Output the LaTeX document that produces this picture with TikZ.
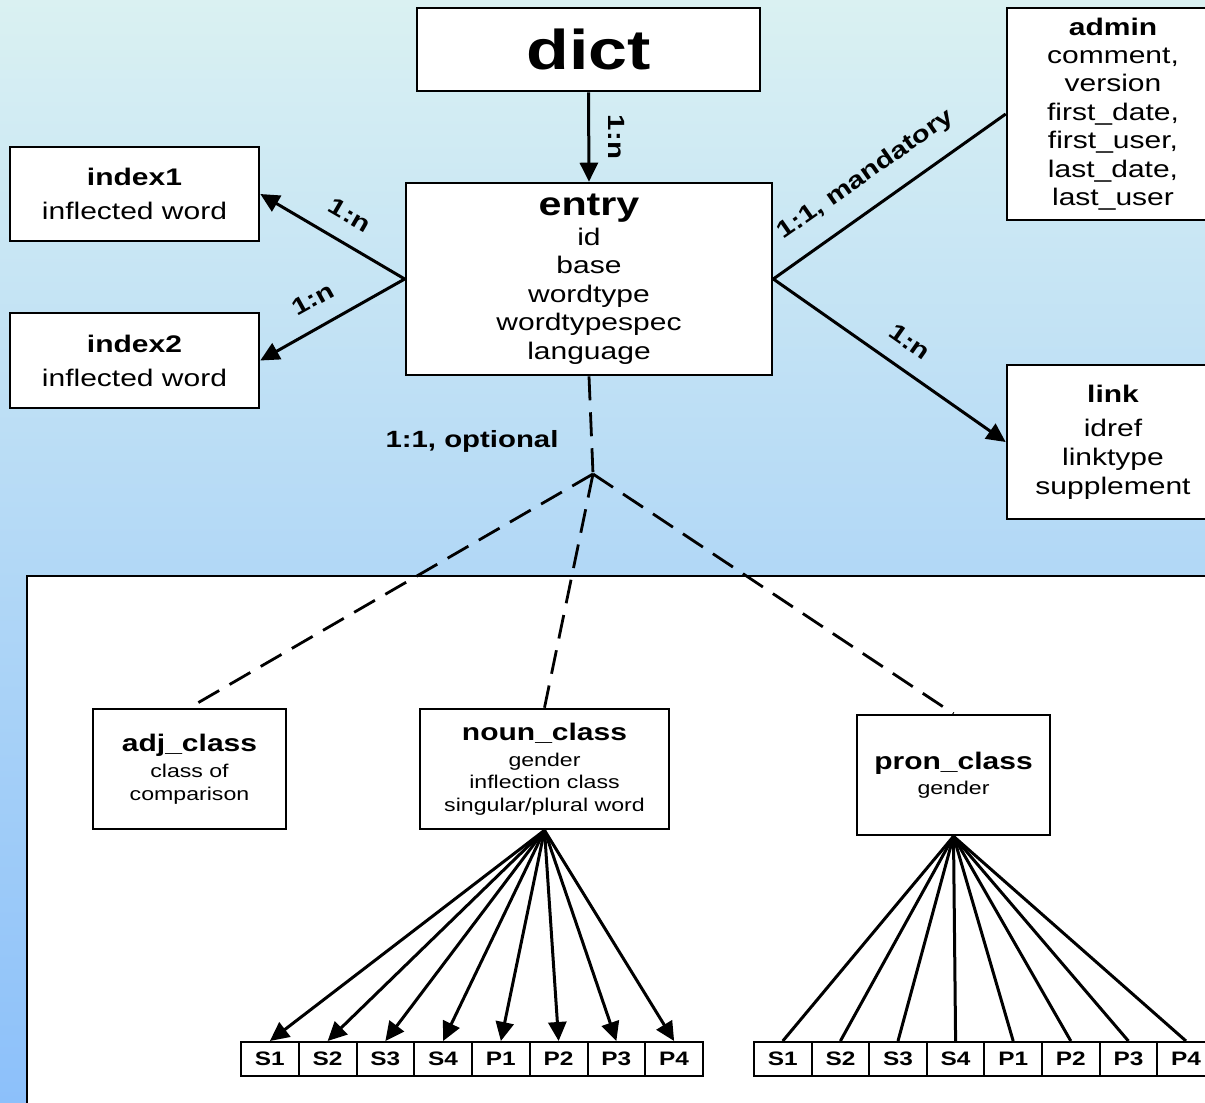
\documentclass[tikz,border=0pt]{standalone}
\usepackage{fontspec}
\setmainfont[FakeStretch=1.25]{Liberation Sans}
\usetikzlibrary{arrows.meta}
\newcommand\fs[2]{\fontsize{#1}{#2}\selectfont}
\definecolor{bgtop}{RGB}{218,241,242}
\definecolor{bgbot}{RGB}{140,192,250}
\begin{document}
\begin{tikzpicture}[x=1pt,y=-1pt,
  box/.style={draw, line width=2.6pt, fill=white, align=center, inner sep=0pt},
  cell/.style={draw, line width=2pt, fill=white, minimum width=57.75, minimum height=34, inner sep=0pt, font=\fs{19.5}{21}\bfseries},
  conn/.style={line width=3pt},
  arr/.style={conn, -{Triangle[length=19pt,width=18pt]}},
  optline/.style={line width=2.8pt, dash pattern=on 24pt off 12pt},
  lbl/.style={font=\fs{23.5}{25}\bfseries, inner sep=0pt}]
\useasboundingbox (0,0) rectangle (1205,1103);
\clip (0,0) rectangle (1205,1103);
\shade[top color=bgtop, bottom color=bgbot] (0,0) rectangle (1205,1103);
% white panel
\draw[line width=1.6pt, fill=white] (27,576) rectangle (1230,1130);

% boxes
\node[box, minimum width=343, minimum height=83] (dict) at (588.5,49.5) {\fs{56}{60}\bfseries dict};
\node[box, minimum width=366, minimum height=192, font=\fs{24}{28.5}] (entry) at (589,279)
  {{\fs{33}{36}\bfseries entry}\\[1pt] id\\ base\\ wordtype\\ wordtypespec\\ language};
\node[box, minimum width=249, minimum height=94, font=\fs{24}{34}] (index1) at (134.5,194)
  {{\bfseries index1}\\ inflected word};
\node[box, minimum width=249, minimum height=95, font=\fs{24}{34}] (index2) at (134.5,360.5)
  {{\bfseries index2}\\ inflected word};
\node[box, minimum width=212, minimum height=212, font=\fs{24}{28.4}] (admin) at (1113,114)
  {{\bfseries admin}\\ comment,\\ version\\ first\_date,\\ first\_user,\\ last\_date,\\ last\_user};
\node[box, minimum width=212, minimum height=154, font=\fs{24}{29}] (link) at (1113,442)
  {{\bfseries link}\\[5pt] idref\\ linktype\\ supplement};
\node[box, minimum width=193, minimum height=120, font=\fs{18.5}{23}] (adj) at (189.5,769)
  {{\fs{24}{26}\bfseries adj\_class}\\[3pt] class of\\ comparison};
\node[box, minimum width=249, minimum height=120, font=\fs{18.5}{22.5}] (noun) at (544.5,769)
  {{\fs{24}{26}\bfseries noun\_class}\\[3pt] gender\\ inflection class\\ singular/plural word};
\node[box, minimum width=193, minimum height=120, font=\fs{18.5}{25}] (pron) at (953.5,775)
  {{\fs{24}{26}\bfseries pron\_class}\\ gender};

% cells
\foreach \t [count=\i] in {S1,S2,S3,S4,P1,P2,P3,P4} {
  \node[cell] (L\i) at ({241+57.75*(\i-0.5)},1059) {\t};
  \node[cell, minimum width=57.6] (R\i) at ({754+57.6*(\i-0.5)},1059) {\t};
}

% connectors
\draw[arr] (dict.south) -- (entry.north);
\draw[arr] (entry.west) -- (index1.east);
\draw[arr] (entry.west) -- (index2.east);
\draw[conn] (entry.east) -- (admin.west);
\draw[arr] (entry.east) -- (link.west);

\coordinate (j) at (593,474);
\draw[optline] (entry.south) -- (j);
\draw[optline] (j) -- (adj.north);
\draw[optline] (j) -- (noun.north);
\draw[optline] (j) -- (pron.north);

\foreach \i in {1,...,8} {
  \draw[arr] (noun.south) -- (L\i.north);
  \draw[conn] (pron.south) -- (R\i.north);
}

% labels
\node[lbl, rotate=-90] (ldict) at (617,137) {1:n};
\node[lbl, rotate=-30] (lidx1) at (350,215) {1:n};
\node[lbl, rotate=29] (lidx2) at (313,299) {1:n};
\node[lbl, rotate=35] (ladmin) at (866,175) {1:1, mandatory};
\node[lbl, rotate=-35] (llink) at (910,342) {1:n};
\node[lbl] (lopt) at (472,441) {1:1, optional};
\end{tikzpicture}
\end{document}
